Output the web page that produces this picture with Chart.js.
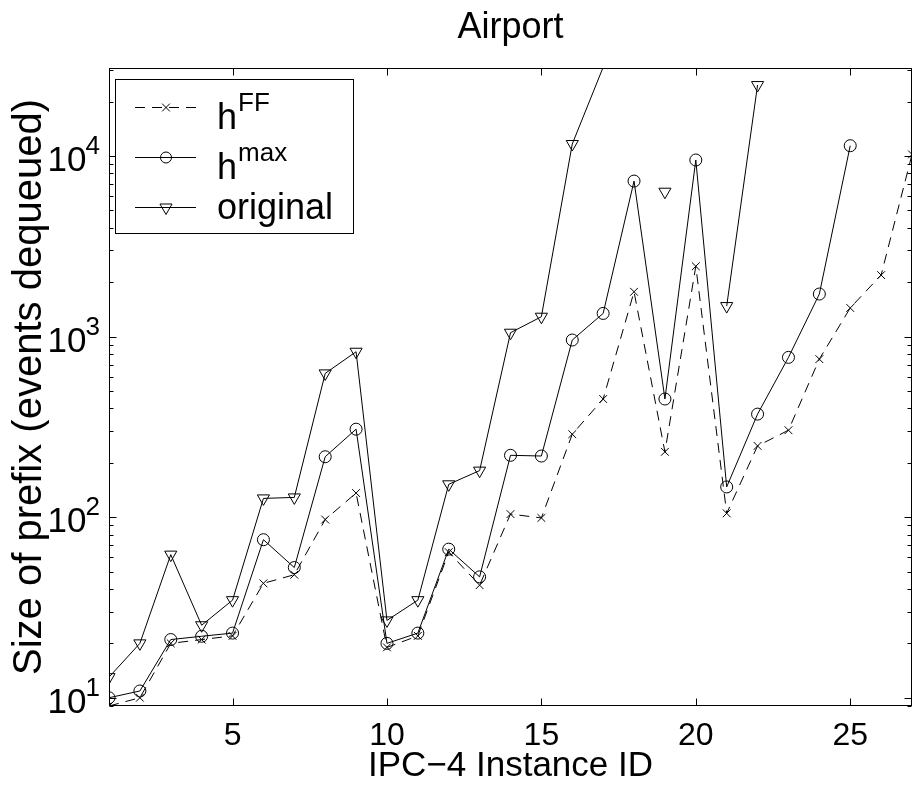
<!DOCTYPE html>
<html>
<head>
<meta charset="utf-8">
<title>Airport</title>
<script src="https://cdn.jsdelivr.net/npm/chart.js@4.4.1/dist/chart.umd.min.js"></script>
<style>
  html, body { margin: 0; padding: 0; background: #fff; }
  canvas { display: block; }
</style>
</head>
<body>
<canvas id="Airport" width="920" height="787"></canvas>
<script>
// IPC-4 instance ids (x axis)
var instanceIds = [1, 2, 3, 4, 5, 6, 7, 8, 9, 10, 11, 12, 13, 14, 15, 16, 17, 18, 19, 20, 21, 22, 23, 24, 25, 26, 27];

// size of prefix (events dequeued)
var hFF      = [9, 10, 20, 21, 22, 43, 48, 97, 136, 19, 22, 64, 42, 104, 99, 288, 451, 1770, 230, 2450, 105, 248, 303, 750, 1440, 2190, 10200];
var hMax     = [10, 10.9, 21, 21.9, 22.8, 75, 52.6, 216, 307, 20, 22.8, 66.5, 46.7, 220, 218, 957, 1343, 7260, 451, 9500, 147, 372, 767, 1720, 11400, null, null];
var original = [13, 20, 62, 25.2, 34.7, 127, 128.6, 625, 824, 26.8, 34.7, 152, 181, 1050, 1288, 11650, 31000, null, 6340, null, 1475, 24700, null, null, null, null, null];

// ticks and labels
var xTicks = [5, 10, 15, 20, 25];
var yDecades = [10, 100, 1000, 10000];
var yExponents = ['1', '2', '3', '4'];
var yMin = 9, yMax = 30700;
var legendNames = [['h', 'FF'], ['h', 'max'], ['original', '']];
var chartTitle = 'Airport';

var FONT = 'Liberation Sans, Arial, Helvetica, sans-serif';
Chart.defaults.font.family = FONT;
Chart.defaults.color = '#000';

function markerRadius(r) {
  return function(c) { return c.raw > yMax ? 0 : r; };
}

var matlabAxes = {
  id: 'matlabAxes',
  afterDraw: function(chart) {
    var ctx = chart.ctx, a = chart.chartArea;
    var xs = chart.scales.x, ys = chart.scales.y;
    var L = Math.round(a.left) + 0.5, R = Math.round(a.right) - 0.5;
    var T = Math.round(a.top) + 0.5, B = Math.round(a.bottom) - 0.5;
    ctx.save();
    ctx.strokeStyle = '#000';
    ctx.lineWidth = 1;
    ctx.setLineDash([]);
    ctx.strokeRect(L, T, R - L, B - T);

    ctx.beginPath();
    xTicks.forEach(function(t) {
      var px = Math.round(xs.getPixelForValue(t)) + 0.5;
      ctx.moveTo(px, B); ctx.lineTo(px, B - 7);
      ctx.moveTo(px, T); ctx.lineTo(px, T + 7);
    });
    ys.ticks.forEach(function(t) {
      var py = Math.round(ys.getPixelForValue(t.value)) + 0.5;
      var len = yDecades.indexOf(t.value) >= 0 ? 7 : 4;
      ctx.moveTo(L, py); ctx.lineTo(L + len, py);
      ctx.moveTo(R, py); ctx.lineTo(R - len, py);
    });
    ctx.stroke();

    // title, centred over the axes
    ctx.fillStyle = '#000';
    ctx.font = '36px ' + FONT;
    ctx.textAlign = 'center';
    ctx.textBaseline = 'alphabetic';
    ctx.fillText(chartTitle, (a.left + a.right) / 2, 38);

    // y tick labels 10^n
    yDecades.forEach(function(v, i) {
      var py = ys.getPixelForValue(v);
      ctx.font = '35px ' + FONT;
      ctx.textAlign = 'right';
      ctx.fillText('10', 86.5, py + 15);
      ctx.font = '26px ' + FONT;
      ctx.textAlign = 'left';
      ctx.fillText(yExponents[i], 85.5, py - 2);
    });

    // legend
    var bx = 115.5, by = 79.5, bw = 238, bh = 154;
    ctx.fillStyle = '#fff';
    ctx.fillRect(bx, by, bw, bh);
    ctx.strokeRect(bx, by, bw, bh);
    var rows = [107.5, 157.5, 207.5];
    chart.data.datasets.forEach(function(ds, i) {
      var ry = rows[i];
      ctx.strokeStyle = '#000';
      ctx.lineWidth = 1;
      ctx.setLineDash(ds.borderDash || []);
      ctx.beginPath();
      ctx.moveTo(135, ry); ctx.lineTo(196, ry);
      ctx.stroke();
      ctx.setLineDash([]);
      ctx.fillStyle = 'rgba(0,0,0,0)';
      Chart.helpers.drawPoint(ctx, {
        pointStyle: ds.pointStyle,
        rotation: ds.pointRotation || 0,
        radius: ds.legendRadius,
        borderWidth: 1
      }, 166, ry);
      ctx.fillStyle = '#000';
      ctx.textAlign = 'left';
      var name = legendNames[i];
      ctx.font = '36px ' + FONT;
      if (name[1]) {
        ctx.fillText(name[0], 217, ry + 21);
        var w = ctx.measureText(name[0]).width;
        ctx.font = '26px ' + FONT;
        ctx.fillText(name[1], 217 + w + 1, ry + 3);
      } else {
        ctx.fillText(name[0], 217, ry + 11);
      }
    });
    ctx.restore();
  }
};

var ctx = document.getElementById('Airport').getContext('2d');
var myChart = new Chart(ctx, {
  type: 'line',
  data: {
    labels: instanceIds,
    datasets: [{
      label: 'hFF',
      data: hFF,
      borderColor: '#000',
      borderWidth: 1,
      borderDash: [10, 7],
      backgroundColor: 'rgba(0,0,0,0)',
      pointStyle: 'crossRot',
      pointRadius: 5.5,
      legendRadius: 5.5,
      pointBorderWidth: 1,
      pointBorderColor: '#000',
      pointBackgroundColor: 'rgba(0,0,0,0)',
      tension: 0
    }, {
      label: 'hmax',
      data: hMax,
      borderColor: '#000',
      borderWidth: 1,
      backgroundColor: 'rgba(0,0,0,0)',
      pointStyle: 'circle',
      pointRadius: 6,
      legendRadius: 5.5,
      pointBorderWidth: 1,
      pointBorderColor: '#000',
      pointBackgroundColor: 'rgba(0,0,0,0)',
      tension: 0
    }, {
      label: 'original',
      data: original,
      borderColor: '#000',
      borderWidth: 1,
      backgroundColor: 'rgba(0,0,0,0)',
      pointStyle: 'triangle',
      pointRotation: 180,
      pointRadius: markerRadius(7),
      legendRadius: 7,
      pointBorderWidth: 1,
      pointBorderColor: '#000',
      pointBackgroundColor: 'rgba(0,0,0,0)',
      tension: 0
    }]
  },
  options: {
    responsive: false,
    devicePixelRatio: 1,
    animation: false,
    layout: { padding: { left: 0, right: 2.5, top: 68, bottom: 0 } },
    plugins: {
      legend: { display: false },
      tooltip: { enabled: false },
      title: { display: false }
    },
    scales: {
      x: {
        type: 'linear',
        min: 1,
        max: 27,
        afterBuildTicks: function(s) {
          s.ticks = xTicks.map(function(v) { return { value: v }; });
        },
        afterFit: function(s) { s.height = 81; },
        grid: { display: false, drawTicks: false },
        border: { display: false },
        ticks: {
          color: '#000',
          font: { size: 32 },
          padding: 11,
          maxRotation: 0,
          autoSkip: false
        },
        title: {
          display: true,
          text: 'IPC\u22124 Instance ID',
          color: '#000',
          font: { size: 35 },
          padding: { top: 0, bottom: 0 }
        }
      },
      y: {
        type: 'logarithmic',
        min: yMin,
        max: yMax,
        afterBuildTicks: function(s) {
          var t = [];
          yDecades.concat([100000]).forEach(function(d) {
            for (var m = 1; m < 10; m++) {
              var v = d / 10 * m;
              if (v >= yMin && v <= yMax) t.push({ value: v });
            }
          });
          s.ticks = t;
        },
        afterFit: function(s) { s.width = 109; },
        grid: { display: false, drawTicks: false },
        border: { display: false },
        ticks: { display: false },
        title: {
          display: true,
          text: 'Size of prefix (events dequeued)',
          color: '#000',
          font: { size: 40 },
          padding: { top: 6, bottom: 0 }
        }
      }
    }
  },
  plugins: [matlabAxes]
});
</script>
</body>
</html>
